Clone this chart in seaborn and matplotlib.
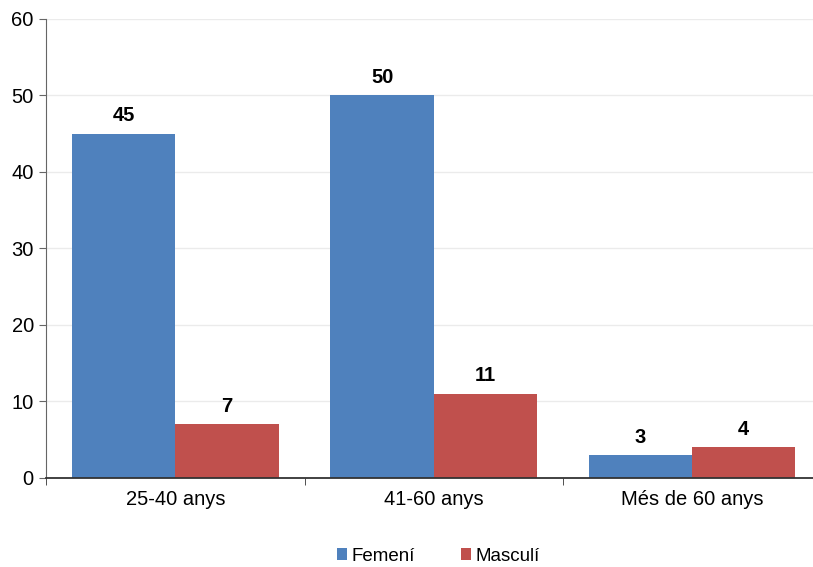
import matplotlib
matplotlib.use("Agg")
import matplotlib.pyplot as plt
import pandas as pd
import seaborn as sns

# age groups and counts by sex
groups = ["25-40 anys", "41-60 anys", "Més de 60 anys"]
femeni = [45, 50, 3]
masculi = [7, 11, 4]
series = ["Femení", "Masculí"]
colors = ["#4F81BD", "#C0504D"]

rows = []
for g, f, m in zip(groups, femeni, masculi):
    rows.append([g, "Femení", f])
    rows.append([g, "Masculí", m])
df = pd.DataFrame(rows, columns=["grup", "sexe", "n"])

sns.set_style("white")
plt.rcParams["font.family"] = ["Liberation Sans", "DejaVu Sans"]
plt.rcParams["text.color"] = "black"
plt.rcParams["xtick.labelcolor"] = "black"
plt.rcParams["ytick.labelcolor"] = "black"

fig = plt.figure(figsize=(8.13, 5.67), dpi=100)
ax = fig.add_axes([0.057, 0.157, 0.953, 0.81])

sns.barplot(data=df, x="grup", y="n", hue="sexe", hue_order=series,
            palette=colors, width=0.8, saturation=1, linewidth=0,
            ax=ax, legend=True)

for p in ax.patches:
    h = p.get_height()
    if h > 0:
        ax.annotate(format(h, ".0f"), (p.get_x() + p.get_width() / 2, h),
                    ha="center", va="bottom", xytext=(0, 6),
                    textcoords="offset points", fontsize=14.5,
                    fontweight="bold", color="black")

ax.set_ylim(0, 60)
ax.set_xlim(-0.5, 2.5)
ax.set_yticks(range(0, 61, 10))
ax.yaxis.grid(True, color="#EBEBEB", linewidth=1)
ax.set_axisbelow(True)
ax.set_xlabel("")
ax.set_ylabel("")

for s in ["top", "right"]:
    ax.spines[s].set_visible(False)
ax.spines["left"].set_color("#666666")
ax.spines["bottom"].set_color("#333333")
ax.spines["bottom"].set_linewidth(1.3)

ax.tick_params(axis="y", which="major", length=5, color="#666666",
               labelsize=14.5, direction="out", left=True, pad=4)
ax.tick_params(axis="x", which="major", length=0, labelsize=14.5, pad=9)
ax.set_xticks([-0.5, 0.5, 1.5, 2.5], minor=True)
ax.tick_params(axis="x", which="minor", length=5, color="#333333",
               direction="out", bottom=True)

ax.legend(loc="upper center", bbox_to_anchor=(0.506, -0.115), ncol=2,
          frameon=False, fontsize=13.5, handlelength=0.55, handleheight=0.55,
          handletextpad=0.25, columnspacing=2.45)

fig.savefig("out.png", dpi=100)
